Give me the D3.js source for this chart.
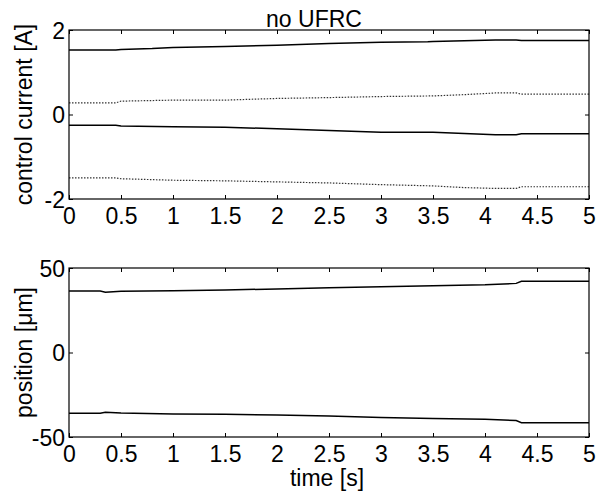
<!DOCTYPE html>
<html><head><meta charset="utf-8">
<script src="https://cdn.jsdelivr.net/npm/d3@7"></script>
<style>body{margin:0;background:#fff}svg{display:block}text{font-family:"Liberation Sans",Arial,sans-serif;fill:#000}</style>
</head><body><svg id="c" width="608" height="496"></svg>
<script>
const xTicks = [0,0.5,1,1.5,2,2.5,3,3.5,4,4.5,5];
const topYTicks = [-2,0,2];
const botYTicks = [-50,0,50];
const title = "no UFRC";
const topYLabel = "control current [A]";
const botYLabel = "position [\u03bcm]";
const xLabel = "time [s]";

// top plot (control current)
const tA = [0,0.45,0.5,0.8,1.0,1.5,2.0,2.5,3.0,3.45,3.5,3.8,4.1,4.3,4.35,5];
const curSolidHi = [1.525,1.525,1.54,1.56,1.585,1.61,1.64,1.68,1.71,1.72,1.73,1.745,1.765,1.765,1.75,1.75];
const tB = [0,0.45,0.5,1.0,1.5,2.0,2.5,3.0,3.5,3.8,4.1,4.3,4.35,5];
const curDotHi = [0.276,0.276,0.316,0.34,0.34,0.38,0.40,0.425,0.44,0.47,0.51,0.51,0.48,0.48];
const curSolidLo = [-0.253,-0.253,-0.27,-0.29,-0.30,-0.34,-0.38,-0.42,-0.42,-0.45,-0.48,-0.48,-0.456,-0.456];
const curDotLo = [-1.50,-1.50,-1.52,-1.556,-1.57,-1.595,-1.62,-1.66,-1.69,-1.73,-1.75,-1.75,-1.71,-1.71];

// bottom plot (position)
const tP = [0,0.3,0.35,0.5,1.0,1.5,2.0,2.5,3.0,3.5,4.0,4.3,4.35,5];
const posHi = [36.4,36.4,35.6,36.2,36.6,37.0,37.6,38.3,38.9,39.5,40.1,40.9,42.1,42.1];
const posLo = [-36.0,-36.0,-35.4,-35.8,-36.4,-36.6,-37.0,-37.6,-38.4,-39.0,-39.5,-40.3,-41.5,-41.5];

const svg = d3.select("#c");
const L = 69, R = 589, FS = 23;
const x = d3.scaleLinear().domain([0,5]).range([L,R]);
const fmt = d => String(d);

function panel(top, bottom, ydom, yticks, ylabel, series) {
  const y = d3.scaleLinear().domain(ydom).range([bottom, top]);
  const g = svg.append("g");
  const line = (ts) => d3.line().x((d,i)=>x(ts[i])).y(d=>y(d));
  series.forEach(s => {
    g.append("path").attr("d", line(s.t)(s.v)).attr("fill","none")
      .attr("stroke", s.dot ? "#333" : "#000")
      .attr("stroke-width", s.dot ? 1.2 : 1.5)
      .attr("stroke-dasharray", s.dot ? "1.5,1.5" : null);
  });
  const ax = (gen, tr) => g.append("g").attr("transform", tr).call(gen);
  const style = sel => { sel.select(".domain").remove(); sel.selectAll("line").attr("stroke","#000"); };
  ax(d3.axisBottom(x).tickValues(xTicks).tickSizeInner(-4).tickSizeOuter(0).tickFormat(fmt), `translate(0,${bottom})`)
    .call(style).selectAll("text").attr("font-size",FS).attr("y",25).attr("dy",0);
  ax(d3.axisTop(x).tickValues(xTicks).tickSizeInner(-4).tickSizeOuter(0).tickFormat(""), `translate(0,${top})`).call(style);
  ax(d3.axisLeft(y).tickValues(yticks).tickSizeInner(-4).tickSizeOuter(0).tickFormat(fmt), `translate(${L},0)`)
    .call(style).selectAll("text").attr("font-size",FS).attr("x",-4).attr("dy","0.36em");
  ax(d3.axisRight(y).tickValues(yticks).tickSizeInner(-4).tickSizeOuter(0).tickFormat(""), `translate(${R},0)`).call(style);
  g.append("rect").attr("x",L).attr("y",top).attr("width",R-L).attr("height",bottom-top)
    .attr("fill","none").attr("stroke","#000").attr("stroke-width",1.2);
  g.append("text").attr("transform",`translate(32,${(top+bottom)/2}) rotate(-90)`)
    .attr("text-anchor","middle").attr("font-size",FS).text(ylabel);
  return y;
}

panel(30, 199, [-2,2], topYTicks, topYLabel, [
  {t:tA, v:curSolidHi}, {t:tB, v:curDotHi, dot:true},
  {t:tB, v:curSolidLo}, {t:tB, v:curDotLo, dot:true}
]);
panel(268, 437, [-50,50], botYTicks, botYLabel, [
  {t:tP, v:posHi}, {t:tP, v:posLo}
]);

svg.append("text").attr("x",314).attr("y",27).attr("text-anchor","middle").attr("font-size",FS).text(title);
svg.append("text").attr("x",327).attr("y",486).attr("text-anchor","middle").attr("font-size",FS).text(xLabel);
</script></body></html>
